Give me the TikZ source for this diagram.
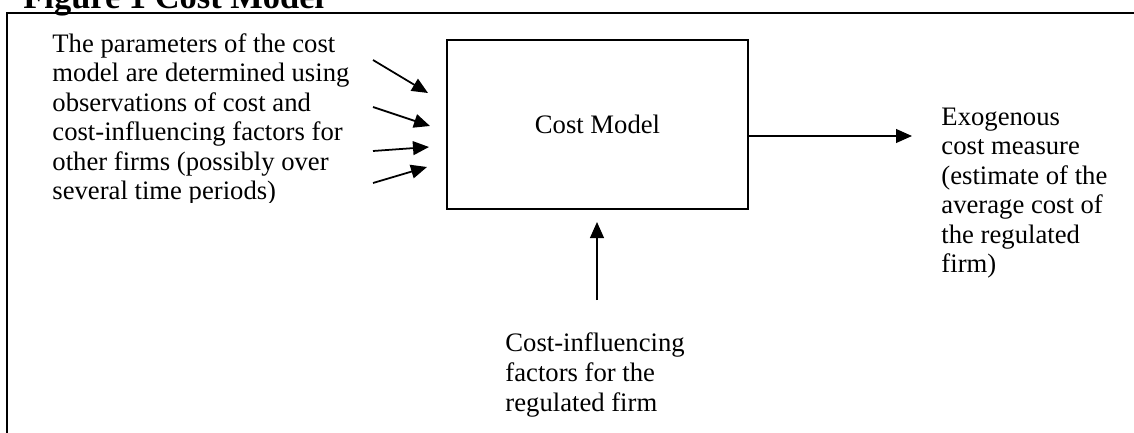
\documentclass[tikz,border=0pt]{standalone}
\usepackage{fontspec}
\setmainfont{Liberation Serif}
\usetikzlibrary{arrows.meta}
\begin{document}
\begin{tikzpicture}[x=0.45pt,y=-0.45pt,
  txt/.style={font=\fontsize{12}{13.3}\selectfont, align=left, inner sep=0pt, anchor=base west},
  arr/.style={line width=0.8pt, -{Triangle[length=7.2pt,width=6.2pt]}},
  framestyle/.style={line width=1.1pt},
  modelbox/.style={draw, line width=0.75pt, minimum width=135.45pt, minimum height=76pt, inner sep=0pt, font=\fontsize{12}{13.3}\selectfont}]
\clip (0,0) rectangle (1134,433);
\draw[framestyle] (1200,13) -- (7,13) -- (7,480);
\node[font=\fontsize{15.5}{18}\selectfont\bfseries, anchor=base west, inner sep=0pt] (title) at (23,8.3) {Figure 1 Cost Model};
% cost model box
\node[modelbox] (box) at (597.5,124.5) {Cost Model};
% left text (clipped at its text box bottom); anchor is the last line's baseline
\begin{scope}
\clip (40,20) rectangle (360,202);
\node[txt] (params) at (52,199.8) {The parameters of the cost\\ model are determined using\\ observations of cost and\\ cost-influencing factors for\\ other firms (possibly over\\ several time periods)};
\end{scope}
% input arrows
\coordinate (s1) at (373,60);  \coordinate (t1) at (428,93);
\coordinate (s2) at (373,107); \coordinate (t2) at (430,126);
\coordinate (s3) at (373,151); \coordinate (t3) at (429,147);
\coordinate (s4) at (373,183); \coordinate (t4) at (427,167);
\draw[arr] (s1) -- (t1);
\draw[arr] (s2) -- (t2);
\draw[arr] (s3) -- (t3);
\draw[arr] (s4) -- (t4);
% output arrow
\coordinate (o1) at (912,136);
\draw[arr] (o1 -| box.east) -- (o1);
\node[txt] (exo) at (941,272.8) {Exogenous\\ cost measure\\ (estimate of the\\ average cost of\\ the regulated\\ firm)};
% bottom arrow
\coordinate (b0) at (597,300);
\coordinate (b1) at (597,222);
\draw[arr] (b0) -- (b1);
\node[txt] (cif) at (505,411) {Cost-influencing\\ factors for the\\ regulated firm};
\end{tikzpicture}
\end{document}
